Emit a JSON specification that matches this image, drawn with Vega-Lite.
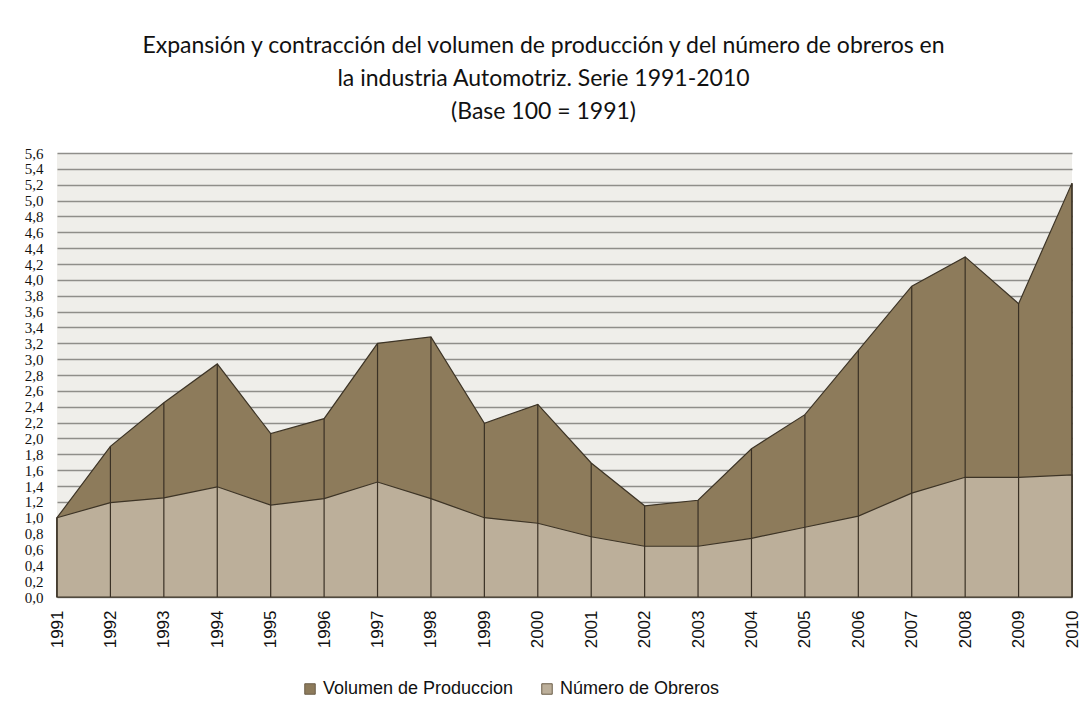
{
  "$schema": "https://vega.github.io/schema/vega-lite/v6.json",
  "width": 1015,
  "height": 444,
  "autosize": "none",
  "padding": {"left": 57, "top": 153, "right": 11, "bottom": 120},
  "background": "white",
  "title": {
    "text": ["Expansión y contracción del volumen de producción y del número de obreros en", "la industria Automotriz. Serie 1991-2010", "(Base 100 = 1991)"],
    "font": "Lato",
    "fontSize": 23,
    "fontWeight": "normal",
    "color": "#111111",
    "lineHeight": 33,
    "anchor": "middle",
    "dx": -21,
    "offset": 22
  },
  "data": {
    "values": [
      {"year": "1991", "serie": "Volumen de Produccion", "valor": 1.0},
      {"year": "1992", "serie": "Volumen de Produccion", "valor": 1.90},
      {"year": "1993", "serie": "Volumen de Produccion", "valor": 2.45},
      {"year": "1994", "serie": "Volumen de Produccion", "valor": 2.94},
      {"year": "1995", "serie": "Volumen de Produccion", "valor": 2.06},
      {"year": "1996", "serie": "Volumen de Produccion", "valor": 2.25},
      {"year": "1997", "serie": "Volumen de Produccion", "valor": 3.20},
      {"year": "1998", "serie": "Volumen de Produccion", "valor": 3.28},
      {"year": "1999", "serie": "Volumen de Produccion", "valor": 2.19},
      {"year": "2000", "serie": "Volumen de Produccion", "valor": 2.43},
      {"year": "2001", "serie": "Volumen de Produccion", "valor": 1.69},
      {"year": "2002", "serie": "Volumen de Produccion", "valor": 1.15},
      {"year": "2003", "serie": "Volumen de Produccion", "valor": 1.22},
      {"year": "2004", "serie": "Volumen de Produccion", "valor": 1.87},
      {"year": "2005", "serie": "Volumen de Produccion", "valor": 2.30},
      {"year": "2006", "serie": "Volumen de Produccion", "valor": 3.11},
      {"year": "2007", "serie": "Volumen de Produccion", "valor": 3.92},
      {"year": "2008", "serie": "Volumen de Produccion", "valor": 4.29},
      {"year": "2009", "serie": "Volumen de Produccion", "valor": 3.70},
      {"year": "2010", "serie": "Volumen de Produccion", "valor": 5.22},
      {"year": "1991", "serie": "Número de Obreros", "valor": 1.0},
      {"year": "1992", "serie": "Número de Obreros", "valor": 1.19},
      {"year": "1993", "serie": "Número de Obreros", "valor": 1.25},
      {"year": "1994", "serie": "Número de Obreros", "valor": 1.39},
      {"year": "1995", "serie": "Número de Obreros", "valor": 1.16},
      {"year": "1996", "serie": "Número de Obreros", "valor": 1.24},
      {"year": "1997", "serie": "Número de Obreros", "valor": 1.45},
      {"year": "1998", "serie": "Número de Obreros", "valor": 1.24},
      {"year": "1999", "serie": "Número de Obreros", "valor": 1.00},
      {"year": "2000", "serie": "Número de Obreros", "valor": 0.93},
      {"year": "2001", "serie": "Número de Obreros", "valor": 0.76},
      {"year": "2002", "serie": "Número de Obreros", "valor": 0.64},
      {"year": "2003", "serie": "Número de Obreros", "valor": 0.64},
      {"year": "2004", "serie": "Número de Obreros", "valor": 0.74},
      {"year": "2005", "serie": "Número de Obreros", "valor": 0.88},
      {"year": "2006", "serie": "Número de Obreros", "valor": 1.02},
      {"year": "2007", "serie": "Número de Obreros", "valor": 1.31},
      {"year": "2008", "serie": "Número de Obreros", "valor": 1.51},
      {"year": "2009", "serie": "Número de Obreros", "valor": 1.51},
      {"year": "2010", "serie": "Número de Obreros", "valor": 1.54}
    ]
  },
  "encoding": {
    "x": {
      "field": "year",
      "type": "ordinal",
      "scale": {"type": "point", "padding": 0},
      "axis": {
        "title": null,
        "labelAngle": -90,
        "labelFont": "Liberation Sans",
        "labelFontSize": 17,
        "labelColor": "#111111",
        "labelPadding": 13,
        "ticks": false,
        "domain": false,
        "grid": false
      }
    },
    "y": {
      "field": "valor",
      "type": "quantitative",
      "scale": {"domain": [0, 5.6], "nice": false, "zero": true},
      "axis": {
        "title": null,
        "values": [0, 0.2, 0.4, 0.6, 0.8, 1.0, 1.2, 1.4, 1.6, 1.8, 2.0, 2.2, 2.4, 2.6, 2.8, 3.0, 3.2, 3.4, 3.6, 3.8, 4.0, 4.2, 4.4, 4.6, 4.8, 5.0, 5.2, 5.4, 5.6],
        "labelExpr": "replace(format(datum.value, '.1f'), '.', ',')",
        "labelOverlap": false,
        "labelFont": "Liberation Sans Narrow",
        "labelFontSize": 15,
        "labelColor": "#111111",
        "labelPadding": 14,
        "ticks": false,
        "domain": false,
        "grid": true,
        "gridColor": "#8f8e8a",
        "gridWidth": 1.5
      }
    }
  },
  "layer": [
    {
      "transform": [{"filter": "datum.serie == 'Volumen de Produccion'"}],
      "mark": {"type": "area", "stroke": "#3d3426", "strokeWidth": 1.2, "opacity": 1},
      "encoding": {
        "color": {
          "field": "serie",
          "type": "nominal",
          "scale": {"domain": ["Volumen de Produccion", "Número de Obreros"], "range": ["#8d7b5b", "#bcaf9a"]},
          "legend": {
            "title": null,
            "orient": "none",
            "direction": "horizontal",
            "legendX": 244,
            "legendY": 527,
            "symbolType": "square",
            "symbolSize": 110,
            "symbolStrokeColor": "#6b5e48",
            "symbolStrokeWidth": 1,
            "labelFont": "Liberation Sans",
            "labelFontSize": 18,
            "labelLimit": 400,
            "labelColor": "#111111",
            "columnPadding": 24,
            "labelOffset": 4
          }
        }
      }
    },
    {
      "transform": [{"filter": "datum.serie == 'Número de Obreros'"}],
      "mark": {"type": "area", "stroke": "#3d3426", "strokeWidth": 1.2, "opacity": 1},
      "encoding": {
        "color": {"field": "serie", "type": "nominal"}
      }
    },
    {
      "transform": [{"filter": "datum.serie == 'Volumen de Produccion'"}],
      "mark": {"type": "rule", "color": "#3a3125", "strokeWidth": 1.2},
      "encoding": {
        "y2": {"datum": 0}
      }
    }
  ],
  "config": {
    "view": {"fill": "#efeeea", "stroke": null}
  }
}
